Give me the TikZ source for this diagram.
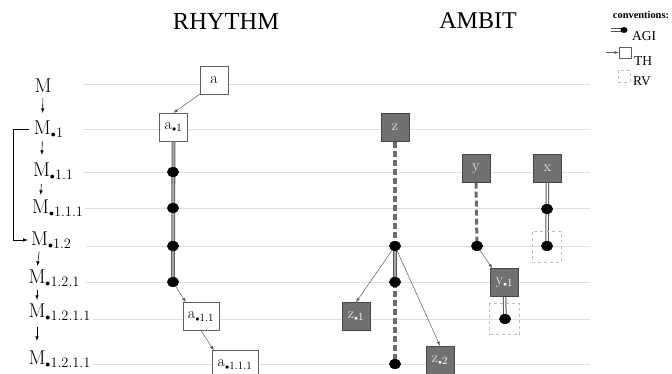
\documentclass[tikz,border=0pt]{standalone}
\usepackage{fontspec}
\newfontfamily\timesfont{Liberation Serif}
\usetikzlibrary{shapes.geometric,backgrounds}
\newcommand{\lvdot}{{\scriptscriptstyle\bullet}}

\begin{document}
\begin{tikzpicture}[x=1pt, y=-1pt,
    mlabel/.style={font=\fontsize{20}{20}\selectfont, inner sep=0pt},
    marrow/.style={-latex, semithick, black},
    rowline/.style={draw=rowgray, line width=0.9pt},
    thbox/.style={draw=boxgray, fill=white, minimum width=28pt, minimum height=28pt, inner sep=2pt, font=\fontsize{16}{16}\selectfont},
    dkbox/.style={draw=dkborder, fill=dkfill, text=white, minimum width=28pt, minimum height=28pt, inner sep=2pt, font=\fontsize{15}{15}\selectfont},
    rvbox/.style={draw=rvgray, dashed, line width=0.8pt, minimum width=30pt, minimum height=31pt},
    agidot/.style={ellipse, fill=black, minimum width=12pt, minimum height=10pt, inner sep=0pt},
    tharrow/.style={-latex, draw=gray!70!black, line width=0.5pt},
    agiline/.style={draw=agigray, double=white, line width=1pt, double distance=1.5pt},
    agisolid/.style={draw=agigray, double=gray!70, line width=0.8pt, double distance=2.2pt},
    rvline/.style={draw=gray!85!black, line width=3.5pt, dash pattern=on 6pt off 3pt},
    legend/.style={font=\timesfont\fontsize{13.5}{13.5}\selectfont, inner sep=0pt, anchor=west}
]

    % colours
    \definecolor{rowgray}{RGB}{222, 222, 222}
    \definecolor{boxgray}{RGB}{95, 95, 95}
    \definecolor{dkfill}{RGB}{112, 112, 112}
    \definecolor{dkborder}{RGB}{70, 70, 70}
    \definecolor{rvgray}{RGB}{190, 190, 190}
    \definecolor{agigray}{RGB}{85, 85, 85}
    \useasboundingbox (0,0) rectangle (672,374);

    % titles
    \node (rhythm) at (226,21) {\timesfont\fontsize{24.5}{24.5}\selectfont RHYTHM};
    \node (ambit) at (478,21) {\timesfont\fontsize{24}{24}\selectfont AMBIT};

    % model levels
    \node (m0) at (43,86) [mlabel] {M};
    \node (m1) at (42.5,129.5) [mlabel] {M\rlap{$_{\lvdot 1}$}};
    \node (m2) at (41.5,171.5) [mlabel] {M\rlap{$_{\lvdot 1.1}$}};
    \node (m3) at (40.5,208.5) [mlabel] {M\rlap{$_{\lvdot 1.1.1}$}};
    \node (m4) at (39.5,240) [mlabel] {M\rlap{$_{\lvdot 1.2}$}};
    \node (m5) at (37,278.5) [mlabel] {M\rlap{$_{\lvdot 1.2.1}$}};
    \node (m6) at (37,312.5) [mlabel] {M\rlap{$_{\lvdot 1.2.1.1}$}};
    \node (m7) at (37,359.5) [mlabel] {M\rlap{$_{\lvdot 1.2.1.1}$}};

    \draw [marrow, shorten <=5pt, shorten >=8pt] (m0.south) -- (m1.north);
    \draw [marrow, shorten <=3pt, shorten >=8pt] (m1.south) -- (m2.north);
    \draw [marrow, shorten <=4pt, shorten >=5pt] (m2.south) -- (m3.north);
    \draw [marrow, shorten <=3pt, shorten >=4pt] (m4.south) -- (m5.north);
    \draw [marrow, shorten <=3pt, shorten >=4pt] (m5.south) -- (m6.north);
    \draw [marrow, shorten <=6pt, shorten >=10pt] (m6.south) -- (m7.north);
    \draw [marrow, shorten <=5pt, shorten >=3pt] (m1.west) -- ++(-21,0) |- (m4.west);

    % rhythm
    \node (a) at (214,80) [thbox] {a};
    \node (a1) at (173.5,127) [thbox] {a$_{\lvdot 1}$};
    \node (ad1) at (173,172) [agidot] {};
    \node (ad2) at (173,208) [agidot] {};
    \node (ad3) at (173,246) [agidot] {};
    \node (ad4) at (173,282) [agidot] {};
    \node (a11) at (201,316.5) [thbox, minimum width=36pt] {a$_{\lvdot 1.1}$};
    \node (a111) at (235,364.5) [thbox, minimum width=46pt] {a$_{\lvdot 1.1.1}$};

    \draw [tharrow] (a.south west) -- (a1.north);
    \draw [tharrow] (ad4) -- ([xshift=3pt]a11.north west);
    \draw [tharrow] (a11.south) -- ([xshift=2pt]a111.north west);

    % ambit
    \node (z) at (395,127.5) [dkbox] {z};
    \node (zd1) at (395,246) [agidot] {};
    \node (zd2) at (395,282) [agidot] {};
    \node (zd3) at (395,364) [agidot] {};
    \node (z1) at (356,316.5) [dkbox] {z$_{\lvdot 1}$};
    \node (z2) at (440,360) [dkbox] {z$_{\lvdot 2}$};
    \draw [tharrow] (zd1) -- (z1.north);
    \draw [tharrow] (zd1) -- (z2.north);

    \node (y) at (476,168.5) [dkbox] {y};
    \node (yd1) at (477,246) [agidot] {};
    \node (y1) at (504.5,282.5) [dkbox] {y$_{\lvdot 1}$};
    \node (yrv) at (504.5,319) [rvbox] {};
    \node (yd2) at (505,319) [agidot] {};
    \draw [tharrow] (yd1) -- ([xshift=2pt]y1.north west);

    \node (x) at (547.5,168.5) [dkbox] {x};
    \node (xd1) at (547,209) [agidot] {};
    \node (xrv) at (546.5,246.5) [rvbox, minimum width=29pt] {};
    \node (xd2) at (547,246) [agidot] {};

    % conventions
    \node (conv) at (641,15) {\timesfont\bfseries\fontsize{10.4}{10.4}\selectfont conventions:};
    \coordinate (lgagi) at (611,30);
    \node (lgdot) at (624,30) [agidot, minimum width=7pt, minimum height=6pt] {};
    \node (lgagitext) at (632,36) [legend] {AGI};
    \coordinate (lgth) at (606,52.5);
    \node (lgbox) at (625,52.5) [draw=boxgray, fill=white, minimum width=12pt, minimum height=11pt, inner sep=0pt] {};
    \node (lgthtext) at (634,61) [legend] {TH};
    \node (lgrv) at (624,76) [draw=rvgray, dashed, line width=0.6pt, minimum width=12pt, minimum height=12pt, inner sep=0pt] {};
    \node (lgrvtext) at (633,81) [legend] {RV};
    \draw [tharrow] (lgth) -- (lgbox.west);

    % guide lines and links
    \begin{pgfonlayer}{background}
        \foreach \yy/\xs in {84/83, 129/83, 172/83, 208/84, 246/86, 282/86, 319/93, 364/93}
            \draw [rowline] (\xs,\yy) -- (590,\yy);
        \draw [agisolid] (a1.south) -- (ad4.center);
        \draw [rvline] (z.south) -- (zd1.center);
        \draw [agisolid] (zd1.center) -- (zd2.center);
        \draw [rvline] (zd2.center) -- (zd3.center);
        \draw [rvline, line width=3pt] (y.south) -- (yd1.center);
        \draw [agiline] (y1.south) -- (yd2.center);
        \draw [agiline] (x.south) -- (xd2.center);
        \draw [agiline] (lgagi) -- (lgdot.center);
    \end{pgfonlayer}

\end{tikzpicture}
\end{document}
